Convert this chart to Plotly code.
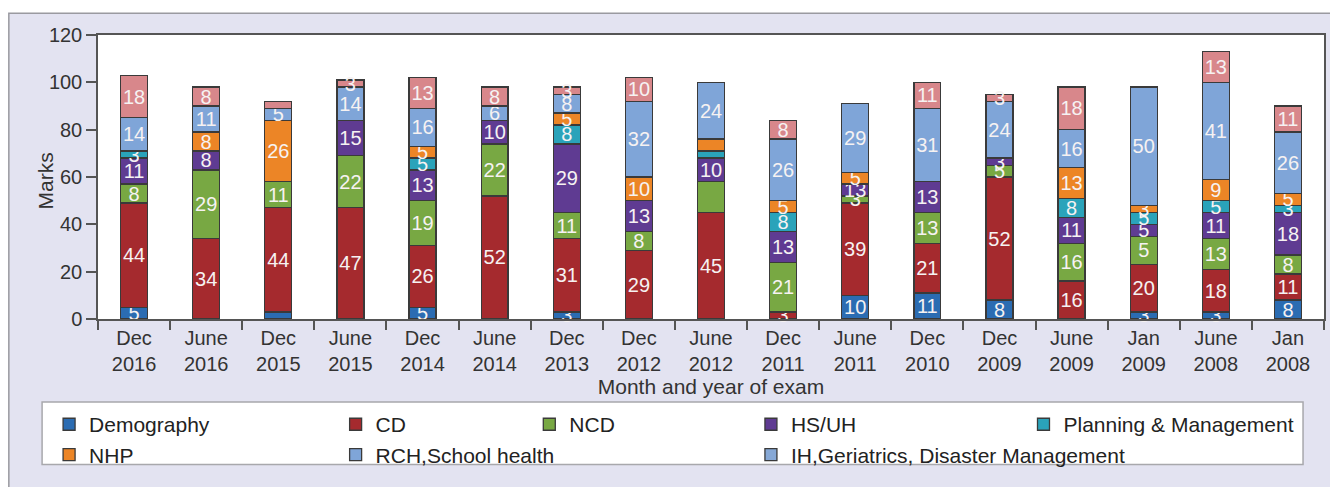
import plotly.graph_objects as go

# ---------------- data ----------------
categories = ["Dec<br>2016", "June<br>2016", "Dec<br>2015", "June<br>2015", "Dec<br>2014",
              "June<br>2014", "Dec<br>2013", "Dec<br>2012", "June<br>2012", "Dec<br>2011",
              "June<br>2011", "Dec<br>2010", "Dec<br>2009", "June<br>2009", "Jan<br>2009",
              "June<br>2008", "Jan<br>2008"]

demography = [5, 0, 3, 0, 5, 0, 3, 0, 0, 0, 10, 11, 8, 0, 3, 3, 8]
cd = [44, 34, 44, 47, 26, 52, 31, 29, 45, 3, 39, 21, 52, 16, 20, 18, 11]
ncd = [8, 29, 11, 22, 19, 22, 11, 8, 13, 21, 3, 13, 5, 16, 12, 13, 8]
hs_uh = [11, 8, 0, 15, 13, 10, 29, 13, 10, 13, 5, 13, 3, 11, 5, 11, 18]
planning = [3, 0, 0, 0, 5, 0, 8, 0, 3, 8, 0, 0, 0, 8, 5, 5, 3]
nhp = [0, 8, 26, 0, 5, 0, 5, 10, 5, 5, 5, 0, 0, 13, 3, 9, 5]
rch = [14, 11, 5, 14, 16, 6, 8, 32, 24, 26, 29, 31, 24, 16, 50, 41, 26]
ih = [18, 8, 3, 3, 13, 8, 3, 10, 0, 8, 0, 11, 3, 18, 0, 13, 11]

series_names = ["Demography", "CD", "NCD", "HS/UH", "Planning & Management", "NHP",
                "RCH,School health", "IH,Geriatrics, Disaster Management"]
series_values = [demography, cd, ncd, hs_uh, planning, nhp, rch, ih]
series_colors = ["#2b6cb2", "#a52a2e", "#78a843", "#5f3b92", "#2aa3ba", "#ec8526",
                 "#7fa5d8", "#d8878b"]

# numbers printed on the original chart where they differ from the drawn segment height
printed_overrides = {("HS/UH", "June<br>2011"): "13", ("NCD", "Jan<br>2009"): "5"}
# segments that carry no printed number in the original
unlabelled = {("Demography", "Dec<br>2015"),
              ("IH,Geriatrics, Disaster Management", "Dec<br>2015"),
              ("NCD", "June<br>2012"), ("Planning & Management", "June<br>2012"),
              ("NHP", "June<br>2012")}

# legend column each series is listed in
legend_of = {"Demography": "legend", "NHP": "legend",
             "CD": "legend2", "RCH,School health": "legend2",
             "NCD": "legend3",
             "HS/UH": "legend4", "IH,Geriatrics, Disaster Management": "legend4",
             "Planning & Management": "legend5"}
ih_legend_swatch = "#86a8d6"   # the original legend shows this key in light blue

FONT = "Liberation Sans, Arial, sans-serif"
OFF = 8  # page body margin offset


def xp(px):
    return (px - 98) / 1228.0


def yp(py):
    return (322 - py) / 287.0


fig = go.Figure()
for name, vals, col in zip(series_names, series_values, series_colors):
    labels = []
    for c, v in zip(categories, vals):
        if v <= 0 or (name, c) in unlabelled:
            labels.append("")
        else:
            labels.append(printed_overrides.get((name, c), str(v)))
    is_ih = name.startswith("IH")
    fig.add_trace(go.Bar(
        x=categories, y=vals, name=name, text=labels,
        textposition="inside", insidetextanchor="middle", textangle=0,
        textfont=dict(color="#f6f2f2", size=20, family=FONT),
        marker=dict(color=col, line=dict(color="#3a3a3a", width=1.3)),
        cliponaxis=False, showlegend=not is_ih,
        legend=legend_of[name], legendgroup=name,
        hoverinfo="x+y+name",
    ))

# legend key for IH as shown in the original (light-blue swatch)
fig.add_trace(go.Bar(
    x=[categories[0]], y=[None], name=series_names[-1],
    marker=dict(color=ih_legend_swatch, line=dict(color="#3a3a3a", width=1.3)),
    legend="legend4", legendgroup="ih_key", showlegend=True, hoverinfo="skip",
))

legend_common = dict(xanchor="left", yanchor="top", bgcolor="rgba(0,0,0,0)",
                     borderwidth=0, tracegroupgap=0, traceorder="grouped",
                     font=dict(size=21, color="#222", family=FONT))
LY = yp(408)

fig.update_layout(
    width=1338 - OFF, height=487 - OFF,
    margin=dict(l=98 - OFF, r=12, t=35 - OFF, b=165),
    barmode="stack", bargap=0.626,
    paper_bgcolor="#e3e3f1", plot_bgcolor="white",
    font=dict(family=FONT, size=18, color="#333"),
    uniformtext=dict(minsize=20, mode="show"),
    legend=dict(x=xp(49), y=LY, **legend_common),
    legend2=dict(x=xp(336), y=LY, **legend_common),
    legend3=dict(x=xp(530), y=LY, **legend_common),
    legend4=dict(x=xp(752), y=LY, **legend_common),
    legend5=dict(x=xp(1025), y=LY, **legend_common),
    shapes=[
        # white strip above the lavender frame
        dict(type="rect", xref="paper", yref="paper", x0=-0.2, x1=1.2, y0=yp(13), y1=yp(-40),
             fillcolor="white", line=dict(width=0), layer="below"),
        # frame border
        dict(type="rect", xref="paper", yref="paper", x0=xp(8.7), x1=xp(1360), y0=yp(520), y1=yp(13),
             fillcolor="rgba(0,0,0,0)", line=dict(color="#9a9aa0", width=1.5), layer="below"),
        # legend box
        dict(type="rect", xref="paper", yref="paper", x0=xp(42), x1=xp(1305), y0=yp(469), y1=yp(406),
             fillcolor="white", line=dict(color="#a8a8ac", width=1.5), layer="below"),
    ],
    annotations=[
        dict(text="Marks", xref="paper", yref="paper", x=xp(45), y=yp(183),
             xanchor="center", yanchor="middle", textangle=-90, showarrow=False,
             font=dict(size=21, color="#333", family=FONT)),
    ],
)

fig.update_xaxes(
    type="category", showline=True, linecolor="#555", linewidth=1.5, mirror=True,
    ticks="outside", tickson="boundaries", ticklen=9, tickcolor="#555", tickwidth=1.5,
    tickfont=dict(size=20, color="#333"), showgrid=False,
    title=dict(text="Month and year of exam", font=dict(size=21, color="#333"), standoff=2),
)
fig.update_yaxes(
    range=[0, 120], dtick=20, showline=True, linecolor="#555", linewidth=1.5, mirror=True,
    ticks="outside", ticklen=10, tickcolor="#555", tickwidth=1.5, showgrid=False, zeroline=False,
    tickfont=dict(size=20, color="#333"),
)

fig.write_html("out.html")
